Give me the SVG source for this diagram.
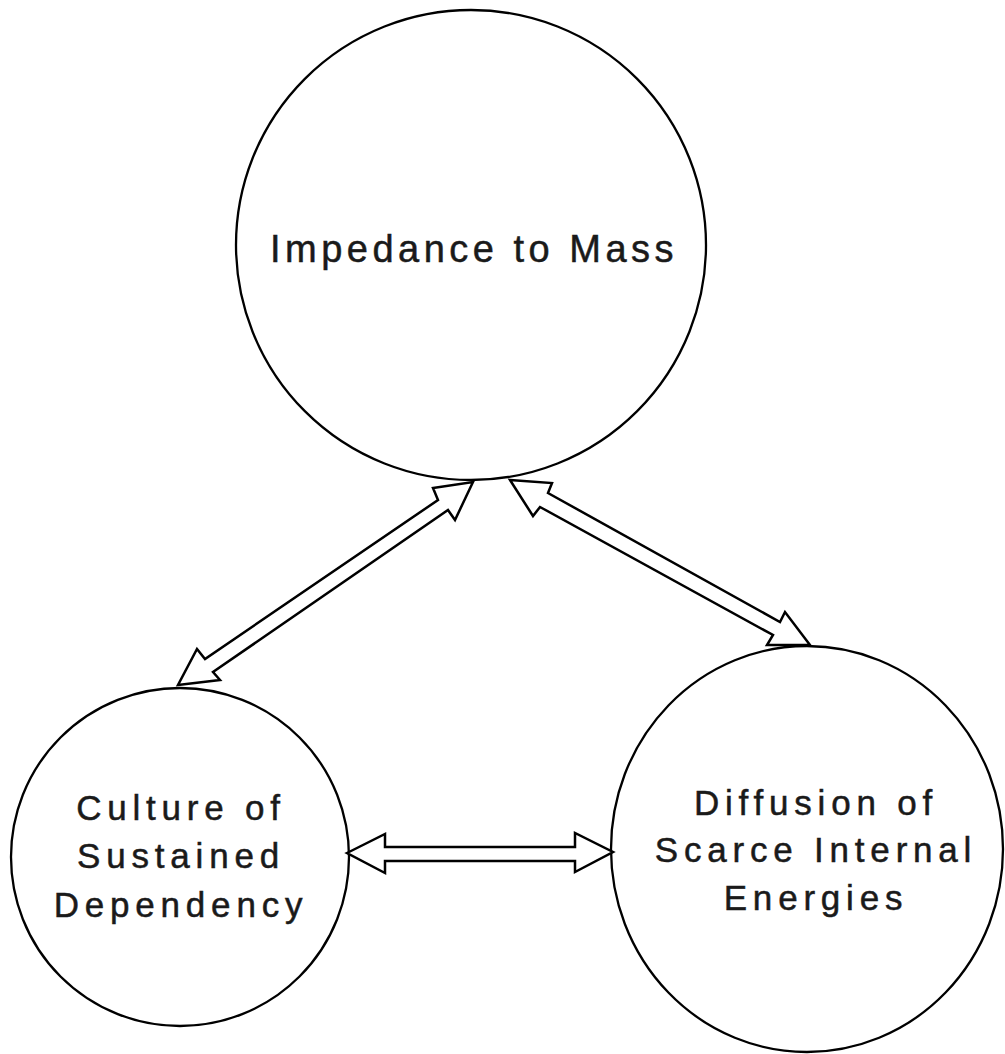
<svg xmlns="http://www.w3.org/2000/svg" width="1005" height="1054" viewBox="0 0 1005 1054">
<style>
.node{fill:#fff;stroke:#000;stroke-width:2.3}
.lbl{font-family:"Liberation Sans",Arial,sans-serif;fill:#1a1a1a;stroke:#1a1a1a;stroke-width:0.5;text-anchor:middle}
.top{font-size:38px;letter-spacing:4.5px}
.bot{font-size:35px;letter-spacing:5.8px}
.arr{fill:#fff;stroke:#000;stroke-width:2.5;stroke-linejoin:miter}
</style>
<rect width="1005" height="1054" fill="#fff"/>
<g id="n-impedance">
<circle class="node" cx="471" cy="245" r="235"/>
<text class="lbl top" x="474" y="262">Impedance to Mass</text>
</g>
<g id="n-culture">
<circle class="node" cx="180" cy="857" r="169"/>
<text class="lbl bot" x="181" y="820">Culture of</text>
<text class="lbl bot" x="181" y="868">Sustained</text>
<text class="lbl bot" x="181" y="917">Dependency</text>
</g>
<g id="n-diffusion">
<ellipse class="node" cx="807" cy="849" rx="196" ry="203"/>
<text class="lbl bot" x="816" y="815">Diffusion of</text>
<text class="lbl bot" x="816" y="862">Scarce Internal</text>
<text class="lbl bot" x="816" y="910">Energies</text>
</g>
<g id="connectors">
<polygon class="arr" points="473,482 455,520 448,510 213,672 220,680 178,685 197,649 205,659 438,500 433,488"/>
<polygon class="arr" points="510,480 552,483 548,493 780,622 785,612 810,645 767,645 773,635 540,507 533,516"/>
<polygon class="arr" points="347,853 385,834 385,847 575,847 575,833 613,852 575,872 575,861 385,861 385,873"/>
</g>
</svg>
